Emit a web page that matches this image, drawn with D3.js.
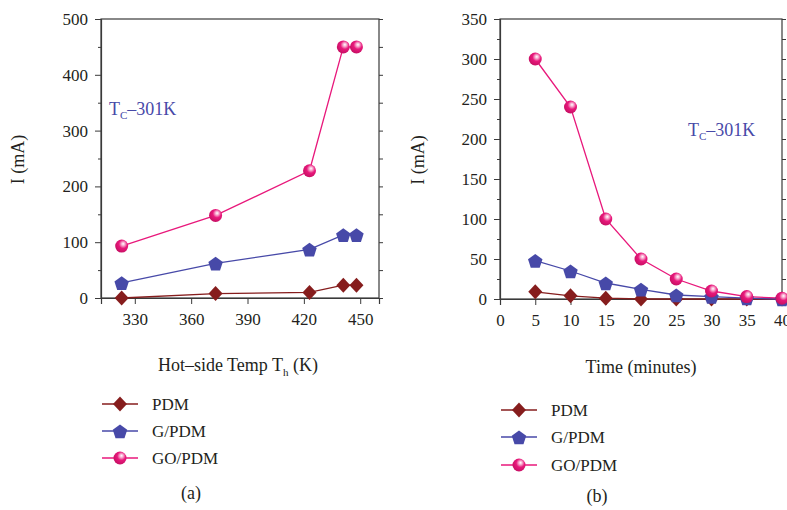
<!DOCTYPE html>
<html><head><meta charset="utf-8">
<script src="https://cdn.jsdelivr.net/npm/d3@7"></script>
<style>body{margin:0;background:#fff}svg{display:block}text{font-family:"Liberation Serif","DejaVu Serif",serif;fill:#231f20}</style>
</head><body>
<svg id="c" width="787" height="510"></svg>
<script>
// Panel (a) data
const tempsA = [323, 373, 423, 441, 448];
const pdmA = [0, 8, 10, 23, 23];
const gpdmA = [27, 62, 87, 113, 113];
const gopdmA = [93, 148, 228, 450, 450];
const xTicksA = [330, 360, 390, 420, 450];
const yTicksA = [0, 100, 200, 300, 400, 500];
// Panel (b) data
const timesB = [5, 10, 15, 20, 25, 30, 35, 40];
const pdmB = [9, 4, 1, 0, 0, 0, 0, 0];
const gpdmB = [48, 35, 20, 12, 5, 3, 1, 0];
const gopdmB = [300, 240, 100, 50, 25, 10, 3, 1];
const xTicksB = [0, 5, 10, 15, 20, 25, 30, 35, 40];
const yTicksB = [0, 50, 100, 150, 200, 250, 300, 350];
const seriesNames = ["PDM", "G/PDM", "GO/PDM"];

const colors = {PDM: "#861d1d", "G/PDM": "#4749a8", "GO/PDM": "#e8187b"};
const svg = d3.select("#c");
const defs = svg.append("defs");
const grad = defs.append("radialGradient").attr("id", "sph").attr("cx", "0.6").attr("cy", "0.38").attr("r", "0.65").attr("fx", "0.62").attr("fy", "0.32");
grad.append("stop").attr("offset", "0").attr("stop-color", "#ffffff");
grad.append("stop").attr("offset", "0.22").attr("stop-color", "#f7a6cc");
grad.append("stop").attr("offset", "0.5").attr("stop-color", "#e8187b");
grad.append("stop").attr("offset", "1").attr("stop-color", "#c50f62");

function marker(g, name, x, y) {
  if (name === "PDM") {
    g.append("path").attr("d", `M${x},${y-7.5}L${x+7},${y}L${x},${y+7.5}L${x-7},${y}Z`).attr("fill", colors.PDM);
  } else if (name === "G/PDM") {
    const pts = d3.range(5).map(i => { const a = -Math.PI/2 + i*2*Math.PI/5; return [x + 7.6*Math.cos(a), y + 1 + 7.6*Math.sin(a)]; });
    g.append("path").attr("d", "M" + pts.map(p => p.join(",")).join("L") + "Z").attr("fill", colors["G/PDM"]);
  } else {
    g.append("circle").attr("cx", x).attr("cy", y).attr("r", 6.5).attr("fill", "url(#sph)");
  }
}

function panel(cfg) {
  const x = d3.scaleLinear().domain(cfg.xDomain).range([cfg.left, cfg.right]);
  const y = d3.scaleLinear().domain(cfg.yDomain).range([cfg.bottom, cfg.top]);
  const g = svg.append("g");
  g.append("rect").attr("x", cfg.left).attr("y", cfg.top).attr("width", cfg.right - cfg.left).attr("height", cfg.bottom - cfg.top)
    .attr("fill", "none").attr("stroke", "#3a3a3a").attr("stroke-width", 1.2);
  const ya = g.append("g").attr("transform", `translate(${cfg.left},0)`)
    .call(d3.axisLeft(y).tickValues(cfg.yTicks).tickSize(6).tickPadding(7).tickFormat(d3.format("d")));
  ya.select(".domain").attr("stroke", "#3a3a3a").attr("stroke-width", 1.2);
  ya.selectAll(".tick line").attr("stroke", "#3a3a3a");
  ya.selectAll("text").attr("font-size", 17).attr("font-family", "Liberation Serif").attr("fill", "#231f20");
  g.append("g").attr("transform", `translate(${cfg.left},0)`)
    .call(d3.axisLeft(y).tickValues(cfg.yMinor).tickSize(3).tickFormat(""))
    .call(s => s.select(".domain").remove()).selectAll("line").attr("stroke", "#3a3a3a");
  const yr = g.append("g").attr("transform", `translate(${cfg.right},0)`)
    .call(d3.axisRight(y).tickValues(cfg.yTicks.concat(cfg.yMinor)).tickSize(4).tickFormat(""));
  yr.select(".domain").remove(); yr.selectAll("line").attr("stroke", "#3a3a3a");
  const xa = g.append("g").attr("transform", `translate(0,${cfg.bottom})`)
    .call(d3.axisBottom(x).tickValues(cfg.xTicks).tickSize(6).tickPadding(9).tickFormat(d3.format("d")));
  xa.select(".domain").attr("stroke", "#3a3a3a").attr("stroke-width", 1.2);
  xa.selectAll(".tick line").attr("stroke", "#3a3a3a");
  xa.selectAll("text").attr("font-size", 17).attr("font-family", "Liberation Serif").attr("fill", "#231f20");

  const sets = [["PDM", cfg.pdm], ["G/PDM", cfg.gpdm], ["GO/PDM", cfg.gopdm]];
  sets.forEach(([name, vals]) => {
    const pts = cfg.xs.map((xv, i) => [x(xv), y(vals[i])]);
    g.append("path").attr("d", d3.line()(pts)).attr("fill", "none").attr("stroke", colors[name]).attr("stroke-width", 1.3);
  });
  sets.forEach(([name, vals]) => {
    cfg.xs.forEach((xv, i) => marker(g, name, x(xv), y(vals[i])));
  });
  svg.append("text").attr("transform", `translate(${cfg.ylabX},${(cfg.top + cfg.bottom) / 2 + 1}) rotate(-90)`)
    .attr("text-anchor", "middle").attr("font-size", 18).text("I (mA)");
  const t = svg.append("text").attr("x", cfg.annX).attr("y", cfg.annY).attr("font-size", 18).style("fill", "#4749a8");
  t.append("tspan").text("T");
  t.append("tspan").attr("font-size", 11).attr("dy", 4).text("C");
  t.append("tspan").attr("dy", -4).text("–301K");
  const xt = svg.append("text").attr("x", cfg.xtX).attr("y", cfg.xtY).attr("text-anchor", "middle").attr("font-size", 18);
  cfg.xTitle(xt);
  seriesNames.forEach((name, i) => {
    const yy = cfg.legY[i];
    svg.append("line").attr("x1", cfg.legX - 18).attr("x2", cfg.legX + 18).attr("y1", yy).attr("y2", yy).attr("stroke", colors[name]).attr("stroke-width", 1.3);
    marker(svg, name, cfg.legX, yy);
    svg.append("text").attr("x", cfg.legX + 32).attr("y", yy + 6).attr("font-size", 17).text(name);
  });
  svg.append("text").attr("x", cfg.capX).attr("y", cfg.capY).attr("text-anchor", "middle").attr("font-size", 18).text(cfg.cap);
}

panel({
  xDomain: [312, 460], yDomain: [0, 500], left: 101, right: 379, top: 19, bottom: 298,
  xTicks: xTicksA, yTicks: yTicksA, yMinor: [50, 150, 250, 350, 450],
  xs: tempsA, pdm: pdmA, gpdm: gpdmA, gopdm: gopdmA,
  ylabX: 24, annX: 109, annY: 115,
  xtX: 238, xtY: 371,
  xTitle: t => { t.append("tspan").text("Hot–side Temp T"); t.append("tspan").attr("font-size", 11).attr("dy", 5).text("h"); t.append("tspan").attr("dy", -5).text(" (K)"); },
  legX: 120, legY: [404, 431, 458], capX: 191, capY: 499, cap: "(a)"
});
panel({
  xDomain: [0, 40], yDomain: [0, 350], left: 500, right: 782, top: 19, bottom: 299,
  xTicks: xTicksB, yTicks: yTicksB, yMinor: [25, 75, 125, 175, 225, 275, 325],
  xs: timesB, pdm: pdmB, gpdm: gpdmB, gopdm: gopdmB,
  ylabX: 424, annX: 688, annY: 136,
  xtX: 641, xtY: 373,
  xTitle: t => { t.text("Time (minutes)"); },
  legX: 519, legY: [410, 437, 465], capX: 597, capY: 502, cap: "(b)"
});
</script>
</body></html>
